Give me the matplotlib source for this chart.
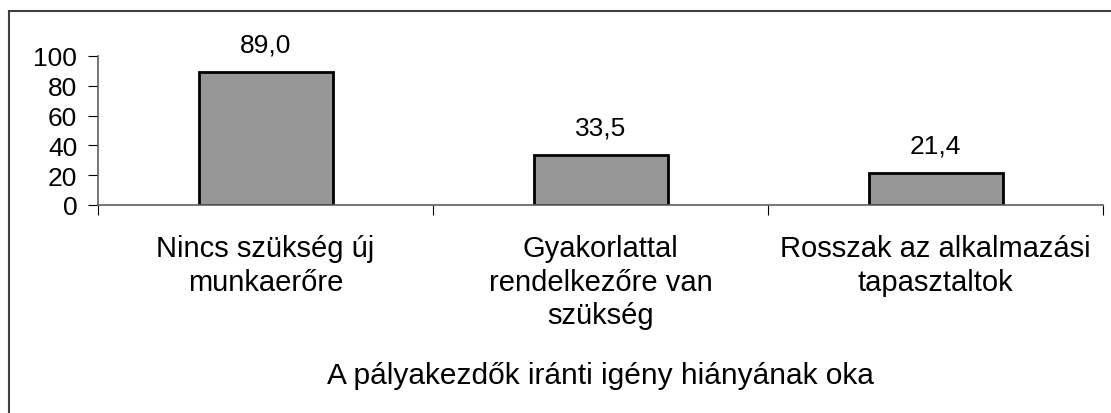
import matplotlib
matplotlib.use("Agg")
import matplotlib.pyplot as plt
from matplotlib.lines import Line2D
import numpy as np

categories = [
    "Nincs szükség új\nmunkaerőre",
    "Gyakorlattal\nrendelkezőre van\nszükség",
    "Rosszak az alkalmazási\ntapasztaltok",
]
values = [89.0, 33.5, 21.4]
y_ticks = [0, 20, 40, 60, 80, 100]
x_title = "A pályakezdők iránti igény hiányának oka"

plt.rcParams["font.family"] = ["Liberation Sans", "DejaVu Sans"]
plt.rcParams["font.size"] = 17.5

W, H = 1111, 414
fig = plt.figure(figsize=(W / 100, H / 100), dpi=100)
ax = fig.add_axes([98 / W, 1 - 206 / H, (1103 - 98) / W, (206 - 57) / H])

x = np.arange(len(categories))
rects = ax.bar(x, values, width=0.4, color="#969696", edgecolor="black", linewidth=2)

for xi, v in zip(x, values):
    ax.annotate(f"{v:.1f}".replace(".", ","), (xi, v), xytext=(0, 20),
                textcoords="offset points", ha="center", va="center", fontsize=19)

ax.set_xlim(-0.5, len(categories) - 0.5)
ax.set_ylim(0, 100)
ax.set_yticks(y_ticks)
ax.set_yticklabels([str(t) for t in y_ticks], fontsize=19)
ax.set_xticks(np.arange(len(categories) + 1) - 0.5)
ax.set_xticklabels([])
ax.set_xticks(x, minor=True)
ax.set_xticklabels(categories, minor=True, fontsize=21, linespacing=1.25)
ax.tick_params(axis="x", which="minor", length=0, pad=21)
ax.tick_params(axis="x", which="major", length=7, direction="out", color="black")
ax.tick_params(axis="y", length=7, direction="out", pad=8, color="black")

for s in ["top", "right"]:
    ax.spines[s].set_visible(False)
for s in ["left", "bottom"]:
    ax.spines[s].set_color("#606060")
    ax.spines[s].set_linewidth(1.2)

fig.text(0.5 * (98 + 1103) / W, 1 - 376 / H, x_title, ha="center", va="center",
         fontsize=21.5)

# chart area border (only top and left are visible in the crop)
fig.add_artist(Line2D([9 / W, 1.0], [1 - 12 / H, 1 - 12 / H], color="#404040", lw=1.5))
fig.add_artist(Line2D([9 / W, 9 / W], [0.0, 1 - 12 / H], color="#404040", lw=1.5))

fig.savefig("out.png", dpi=100)
